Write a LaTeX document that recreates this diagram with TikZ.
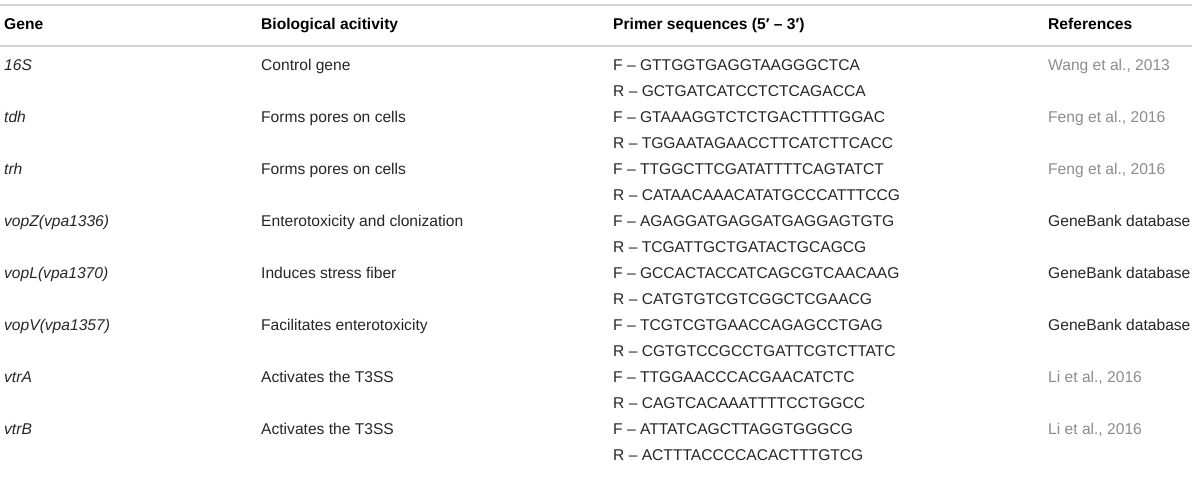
\documentclass[tikz,border=0pt]{standalone}
\usepackage{fontspec}
\setmainfont{Liberation Sans}
\usepackage{tikz}
\definecolor{bodytext}{HTML}{262626}
\definecolor{linktext}{HTML}{8C8C8C}
\definecolor{rulegray}{HTML}{D4D4D4}
\tikzstyle{cell} = [anchor=west, inner sep=0pt, text height=0.716em, text depth=0pt, text=bodytext, font=\fontsize{15.6}{18}\selectfont]
\tikzstyle{head} = [cell, font=\fontsize{15.6}{18}\selectfont\bfseries, text=black]
\tikzstyle{genename} = [cell, font=\fontsize{15.6}{18}\selectfont\itshape]
\tikzstyle{cite} = [cell, text=linktext]
\tikzstyle{rule} = [draw=rulegray, line width=2pt]

\begin{document}
\begin{tikzpicture}[x=1pt, y=-1pt]
        \useasboundingbox (0,0) rectangle (1200,478);

        % rules
        \draw [rule] (0,5.5) -- (1192,5.5);
        \draw [rule] (0,46.5) -- (1192,46.5);

        % header
        \node (hgene) [head] at (4,26) {Gene};
        \node (hact) [head] at (261,26) {Biological acitivity};
        \node (hprimer) [head] at (613,26) {Primer sequences (5′ – 3′)};
        \node (href) [head] at (1048,26) {References};

        % 16S
        \node (gene1) [genename] at (4,67) {16S};
        \node (act1) [cell] at (261,67) {Control gene};
        \node (fwd1) [cell] at (613,67) {F – GTTGGTGAGGTAAGGGCTCA};
        \node (rev1) [cell] at (613,93) {R – GCTGATCATCCTCTCAGACCA};
        \node (ref1) [cite] at (1048,67) {Wang et al., 2013};

        % tdh
        \node (gene2) [genename] at (4,119) {tdh};
        \node (act2) [cell] at (261,119) {Forms pores on cells};
        \node (fwd2) [cell] at (613,119) {F – GTAAAGGTCTCTGACTTTTGGAC};
        \node (rev2) [cell] at (613,145) {R – TGGAATAGAACCTTCATCTTCACC};
        \node (ref2) [cite] at (1048,119) {Feng et al., 2016};

        % trh
        \node (gene3) [genename] at (4,171) {trh};
        \node (act3) [cell] at (261,171) {Forms pores on cells};
        \node (fwd3) [cell] at (613,171) {F – TTGGCTTCGATATTTTCAGTATCT};
        \node (rev3) [cell] at (613,197) {R – CATAACAAACATATGCCCATTTCCG};
        \node (ref3) [cite] at (1048,171) {Feng et al., 2016};

        % vopZ
        \node (gene4) [genename] at (4,223) {vopZ(vpa1336)};
        \node (act4) [cell] at (261,223) {Enterotoxicity and clonization};
        \node (fwd4) [cell] at (613,223) {F – AGAGGATGAGGATGAGGAGTGTG};
        \node (rev4) [cell] at (613,249) {R – TCGATTGCTGATACTGCAGCG};
        \node (ref4) [cell] at (1048,223) {GeneBank database};

        % vopL
        \node (gene5) [genename] at (4,275) {vopL(vpa1370)};
        \node (act5) [cell] at (261,275) {Induces stress fiber};
        \node (fwd5) [cell] at (613,275) {F – GCCACTACCATCAGCGTCAACAAG};
        \node (rev5) [cell] at (613,301) {R – CATGTGTCGTCGGCTCGAACG};
        \node (ref5) [cell] at (1048,275) {GeneBank database};

        % vopV
        \node (gene6) [genename] at (4,327) {vopV(vpa1357)};
        \node (act6) [cell] at (261,327) {Facilitates enterotoxicity};
        \node (fwd6) [cell] at (613,327) {F – TCGTCGTGAACCAGAGCCTGAG};
        \node (rev6) [cell] at (613,353) {R – CGTGTCCGCCTGATTCGTCTTATC};
        \node (ref6) [cell] at (1048,327) {GeneBank database};

        % vtrA
        \node (gene7) [genename] at (4,379) {vtrA};
        \node (act7) [cell] at (261,379) {Activates the T3SS};
        \node (fwd7) [cell] at (613,379) {F – TTGGAACCCACGAACATCTC};
        \node (rev7) [cell] at (613,405) {R – CAGTCACAAATTTTCCTGGCC};
        \node (ref7) [cite] at (1048,379) {Li et al., 2016};

        % vtrB
        \node (gene8) [genename] at (4,431) {vtrB};
        \node (act8) [cell] at (261,431) {Activates the T3SS};
        \node (fwd8) [cell] at (613,431) {F – ATTATCAGCTTAGGTGGGCG};
        \node (rev8) [cell] at (613,457) {R – ACTTTACCCCACACTTTGTCG};
        \node (ref8) [cite] at (1048,431) {Li et al., 2016};
    \end{tikzpicture}
\end{document}
